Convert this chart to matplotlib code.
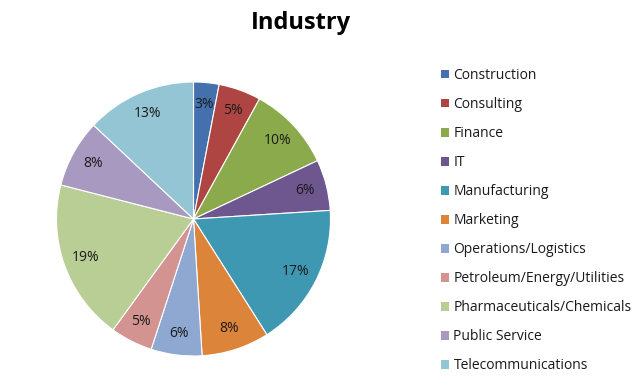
import matplotlib.pyplot as plt
import numpy as np
from matplotlib.patches import Patch

plt.rcParams['font.family'] = ['Open Sans', 'DejaVu Sans']

# industry shares (percent)
industries = ['Construction', 'Consulting', 'Finance', 'IT', 'Manufacturing',
              'Marketing', 'Operations/Logistics', 'Petroleum/Energy/Utilities',
              'Pharmaceuticals/Chemicals', 'Public Service', 'Telecommunications']
shares = [3, 5, 10, 6, 17, 8, 6, 5, 19, 8, 13]
colors = ['#4471AE', '#AE4542', '#8BAA4B', '#6E568F', '#3F98B1', '#DD843B',
          '#8EA8D2', '#D39391', '#B9CE95', '#A899C0', '#93C5D5']

fig = plt.figure(figsize=(6.4, 3.85), dpi=100)
# square axes for the pie, in figure pixels
ax = fig.add_axes([56.5 / 640, 29 / 385, 274 / 640, 274 / 385])

wedges, texts = ax.pie(shares, colors=colors, startangle=90, counterclock=False,
                       radius=1, wedgeprops=dict(edgecolor='white', linewidth=0.8))
for w, s in zip(wedges, shares):
    ang = np.deg2rad((w.theta1 + w.theta2) / 2)
    ax.text(0.84 * np.cos(ang), 0.84 * np.sin(ang), f'{s}%', ha='center',
            va='center', fontsize=10, color='#1a1a1a')
ax.set_xlim(-1, 1)
ax.set_ylim(-1, 1)
ax.set_aspect('equal')
ax.axis('off')

fig.text(301 / 640, 1 - 23 / 385, 'Industry', ha='center', va='center',
         fontsize=17, fontweight='bold', color='black')

handles = [Patch(facecolor=c, edgecolor='none') for c in colors]
fig.legend(handles, industries, loc='upper left',
           bbox_to_anchor=(434 / 640, 1 - 61 / 385), frameon=False,
           fontsize=10, handlelength=0.6, handleheight=0.6, handletextpad=0.3,
           labelspacing=1.01, borderpad=0, labelcolor='#1a1a1a')

fig.savefig('out.png', dpi=100)
